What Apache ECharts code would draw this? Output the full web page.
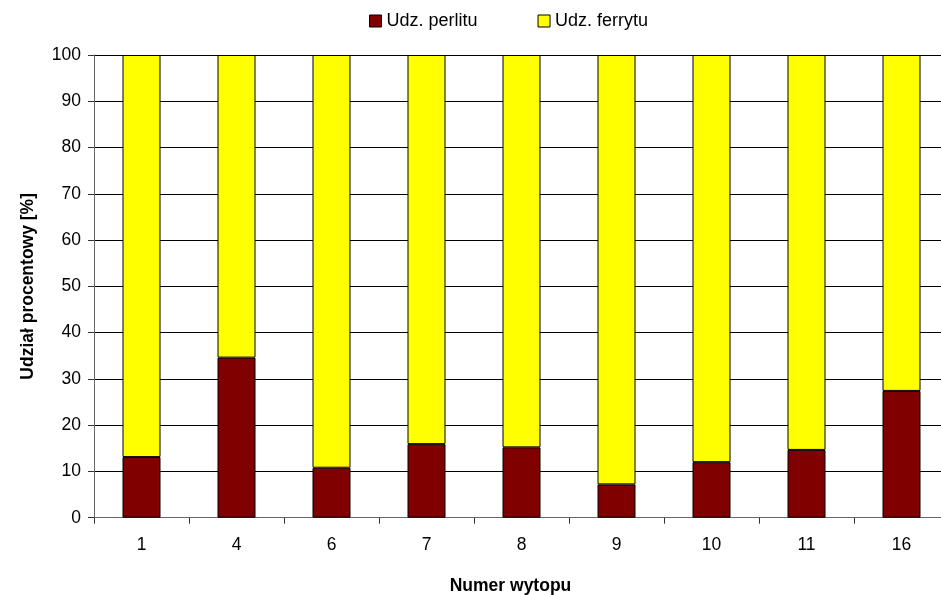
<!DOCTYPE html>
<html>
<head>
<meta charset="utf-8">
<script src="https://cdn.jsdelivr.net/npm/echarts@6/dist/echarts.min.js"></script>
<style>
  html, body { margin: 0; padding: 0; background: #fff; }
  #chart { width: 941px; height: 595px; }
</style>
</head>
<body>
<div id="chart"></div>
<script>
// Numer wytopu (melt numbers)
const categories = ['1', '4', '6', '7', '8', '9', '10', '11', '16'];
// Pearlite share [%]
const perlit = [13.1, 34.6, 10.8, 15.9, 15.2, 7.2, 12.0, 14.65, 27.4];
// Ferrite share [%] (remainder to 100)
const ferryt = [86.9, 65.4, 89.2, 84.1, 84.8, 92.8, 88.0, 85.35, 72.6];
const yTicks = [0, 10, 20, 30, 40, 50, 60, 70, 80, 90, 100];

const font = 'Liberation Sans, Arial, sans-serif';
const chart = echarts.init(document.getElementById('chart'), null, { renderer: 'canvas' });

chart.setOption({
  animation: false,
  backgroundColor: '#ffffff',
  textStyle: { fontFamily: font },
  legend: {
    top: 7,
    left: 364,
    itemGap: 60,
    itemWidth: 12,
    itemHeight: 12,
    icon: 'rect',
    textStyle: { fontSize: 18, color: '#000', fontFamily: font },
    data: [
      { name: 'Udz. perlitu', itemStyle: { color: '#800000', borderColor: '#000', borderWidth: 1 } },
      { name: 'Udz. ferrytu', itemStyle: { color: '#ffff00', borderColor: '#000', borderWidth: 1 } }
    ]
  },
  grid: {
    left: 94, top: 55, width: 855, height: 462.7,
    containLabel: false,
    outerBoundsMode: 'none'
  },
  xAxis: {
    type: 'category',
    data: categories,
    name: 'Numer wytopu',
    nameLocation: 'middle',
    nameGap: 59,
    nameTextStyle: { fontSize: 17.5, fontWeight: 'bold', color: '#000', fontFamily: font, padding: [0, 22, 0, 0] },
    axisLine: { lineStyle: { color: '#666', width: 1 } },
    axisTick: { show: true, length: 6, lineStyle: { color: '#333' } },
    axisLabel: { fontSize: 17.5, color: '#000', margin: 18, fontFamily: font },
    splitLine: { show: false }
  },
  yAxis: {
    type: 'value',
    min: 0,
    max: 100,
    interval: 10,
    name: 'Udział procentowy [%]',
    nameLocation: 'middle',
    nameGap: 57,
    nameRotate: 90,
    nameTextStyle: { fontSize: 17.5, fontWeight: 'bold', color: '#000', fontFamily: font },
    axisLine: { show: true, lineStyle: { color: '#666', width: 1 } },
    axisTick: { show: true, inside: false, length: 6, lineStyle: { color: '#333' } },
    axisLabel: {
      fontSize: 17.5, color: '#000', margin: 13, fontFamily: font,
      formatter: v => (yTicks.indexOf(v) >= 0 ? String(v) : '')
    },
    splitLine: { show: true, lineStyle: { color: '#000', width: 1 } }
  },
  series: [
    {
      name: 'Udz. perlitu',
      type: 'bar',
      stack: 'total',
      data: perlit,
      barWidth: '40%',
      itemStyle: { color: '#800000', borderColor: '#000', borderWidth: 1 }
    },
    {
      name: 'Udz. ferrytu',
      type: 'bar',
      stack: 'total',
      data: ferryt,
      barWidth: '40%',
      itemStyle: { color: '#ffff00', borderColor: '#000', borderWidth: 1 }
    }
  ]
});
</script>
</body>
</html>
